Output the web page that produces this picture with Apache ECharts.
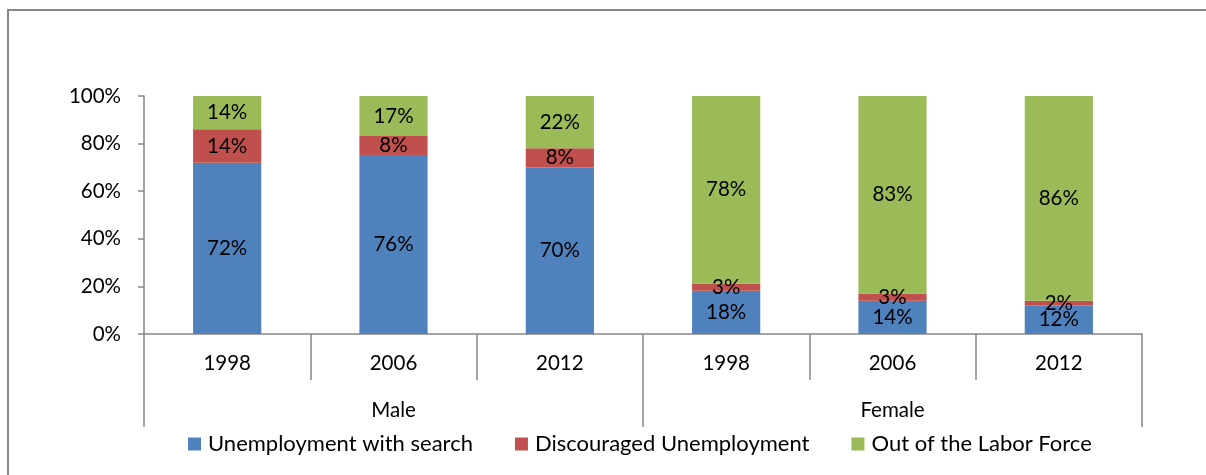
<!DOCTYPE html>
<html>
<head>
<meta charset="utf-8">
<script src="https://cdn.jsdelivr.net/npm/echarts@6/dist/echarts.min.js"></script>
<style>
  html, body { margin: 0; padding: 0; background: #fff; }
  #chart { width: 1206px; height: 475px; }
</style>
</head>
<body>
<div id="chart"></div>
<script>
// Categories: year within each sex group
const years = ['1998', '2006', '2012', '1998', '2006', '2012'];
const groups = ['Male', 'Female'];

// Shares (%) of each category
const withSearch = [72, 76, 70, 18, 14, 12];
const discouraged = [14, 8, 8, 3, 3, 2];
const outOfLabor = [14, 17, 22, 78, 83, 86];

const yTicks = [0, 20, 40, 60, 80, 100];

const seriesDefs = [
  { name: 'Unemployment with search', values: withSearch, color: '#4F81BD' },
  { name: 'Discouraged Unemployment', values: discouraged, color: '#C0504D' },
  { name: 'Out of the Labor Force', values: outOfLabor, color: '#9BBB59' }
];

// 100% stacking: each column is scaled so its parts sum to 100
const totals = years.map((_, i) => seriesDefs.reduce((s, d) => s + d.values[i], 0));

const FONT = 'Lato';
const FS = 20.5;
const TXT = '#000';
const AXIS = '#868686';

const chart = echarts.init(document.getElementById('chart'), null, { renderer: 'canvas' });

chart.setOption({
  animation: false,
  textStyle: { fontFamily: FONT },
  graphic: [{
    type: 'rect',
    shape: { x: 8, y: 10, width: 1400, height: 700 },
    style: { fill: 'none', stroke: AXIS, lineWidth: 2 },
    silent: true
  }],
  grid: { left: 144, right: 64, top: 96, bottom: 141, containLabel: false },
  legend: {
    bottom: 15,
    left: 183,
    itemWidth: 13,
    itemHeight: 13,
    itemGap: 42,
    icon: 'rect',
    textStyle: { fontFamily: FONT, fontSize: 22, color: TXT, padding: [0, 0, 0, 2] },
    data: seriesDefs.map(d => d.name)
  },
  xAxis: [{
    type: 'category',
    data: years,
    position: 'bottom',
    axisLine: { show: true, lineStyle: { color: AXIS, width: 1.5 } },
    axisTick: { show: true, interval: 0, length: 46, lineStyle: { color: AXIS, width: 1.5 } },
    axisLabel: { interval: 0, margin: 19, fontFamily: FONT, fontSize: FS, color: TXT }
  }, {
    type: 'category',
    data: groups,
    position: 'bottom',
    offset: 0,
    axisLine: { show: false },
    axisTick: { show: true, interval: 0, length: 93, lineStyle: { color: AXIS, width: 1.5 } },
    axisLabel: { interval: 0, margin: 66, fontFamily: FONT, fontSize: FS, color: TXT },
    splitLine: { show: false }
  }],
  yAxis: {
    type: 'value',
    min: yTicks[0],
    max: yTicks[yTicks.length - 1],
    interval: yTicks[1] - yTicks[0],
    axisLine: { show: true, lineStyle: { color: AXIS, width: 1.5 } },
    axisTick: { show: true, length: 6, lineStyle: { color: AXIS, width: 1.5 } },
    axisLabel: { formatter: '{value}%', margin: 23, fontFamily: FONT, fontSize: FS, color: TXT },
    splitLine: { show: false }
  },
  series: seriesDefs.map(d => ({
    name: d.name,
    type: 'bar',
    stack: 'total',
    xAxisIndex: 0,
    barWidth: '41%',
    itemStyle: { color: d.color },
    label: {
      show: true,
      position: 'inside',
      fontFamily: FONT,
      fontSize: FS,
      color: TXT,
      formatter: p => d.values[p.dataIndex] + '%'
    },
    data: d.values.map((v, i) => v / totals[i] * 100)
  }))
});
</script>
</body>
</html>
